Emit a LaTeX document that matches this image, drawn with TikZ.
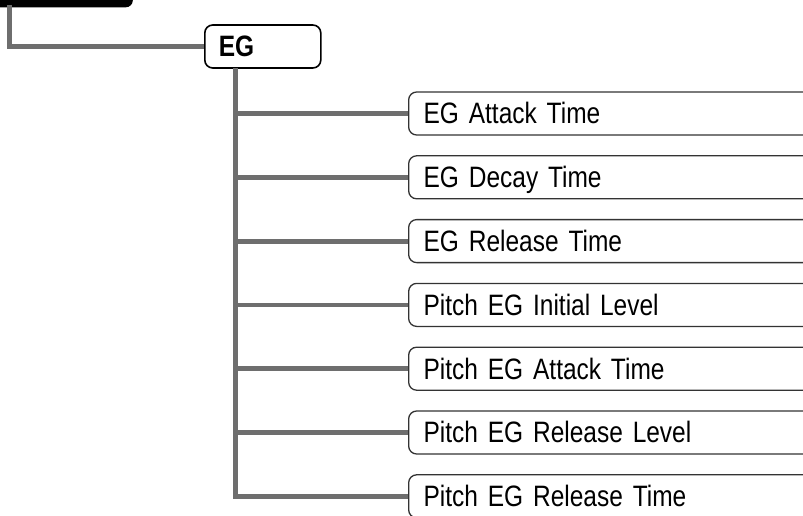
\documentclass[tikz,border=0pt]{standalone}
\usepackage{fontspec}
\setmainfont{Liberation Sans}[FakeStretch=0.83, WordSpace=0.8]
\definecolor{linkgray}{HTML}{6E6E6E}
\definecolor{boxedge}{HTML}{333333}
\tikzset{
  conn/.style={draw=linkgray, line width=4.8pt},
  parambox/.style={draw=boxedge, line width=1.3pt, rounded corners=8pt, fill=white,
    anchor=west, text width=400pt, align=left, inner xsep=15pt, inner ysep=0pt,
    minimum height=43pt, text height=20.7pt, text depth=0pt, font=\fontsize{29.5}{30}\selectfont},
  groupbox/.style={draw=black, line width=1.6pt, rounded corners=8pt, fill=white,
    anchor=west, text width=88pt, align=left, inner xsep=14pt, inner ysep=0pt,
    minimum height=43pt, text height=21pt, text depth=0pt, font=\fontsize{29.5}{30}\selectfont\bfseries}
}
\begin{document}
\begin{tikzpicture}[x=1pt, y=-1pt]
    \clip (0,0) rectangle (803,516);
    % parent block, cut off at the top
    \node[fill=black, rounded corners=7pt, anchor=south east, minimum width=170pt,
          minimum height=50pt, inner sep=0pt] (root) at (133,7.5) {};
    \node[groupbox] (eg) at (204,46.5) {EG};
    \coordinate (rootfoot) at (9.5,5);
    \coordinate (trunk) at (235.5,68);
    % parameter boxes
    \foreach \i/\t in {1/{EG Attack Time},2/{EG Decay Time},3/{EG Release Time},
                       4/{Pitch EG Initial Level},5/{Pitch EG Attack Time},
                       6/{Pitch EG Release Level},7/{Pitch EG Release Time}} {
      \node[parambox] (p\i) at (408,{113.5+63.8*(\i-1)}) {\t};
    }
    % links
    \draw[conn] (rootfoot) |- (eg.west);
    \draw[conn] (trunk) |- (p7.west);
    \foreach \i in {1,...,6} {
      \draw[conn] (trunk |- p\i.west) -- (p\i.west);
    }
  \end{tikzpicture}
\end{document}
